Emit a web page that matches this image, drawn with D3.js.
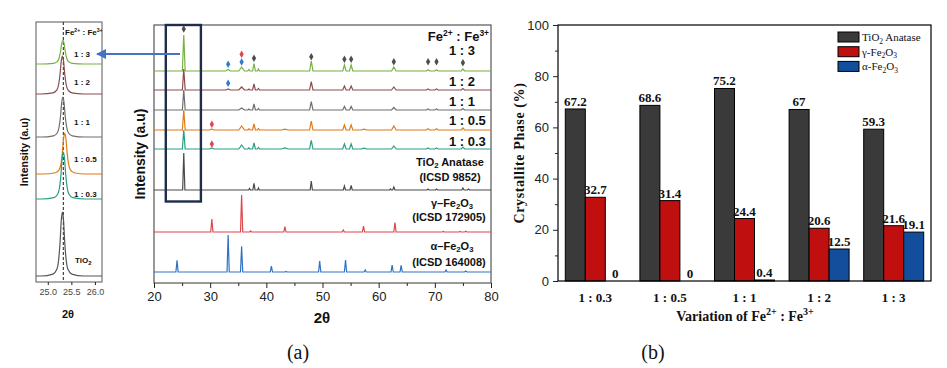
<!DOCTYPE html>
<html>
<head>
<meta charset="utf-8">
<script src="https://cdn.jsdelivr.net/npm/d3@7"></script>
<style>
body{margin:0;background:#fff}
svg{display:block}
text{font-family:"Liberation Sans",Arial,sans-serif;fill:#111}
.narrow{font-family:"Liberation Sans Narrow","Arial Narrow","Liberation Sans",Arial,sans-serif;font-weight:bold}
.serif{font-family:"Liberation Serif","Times New Roman",serif}
.axis path,.axis line{stroke:#222}
</style>
</head>
<body>
<svg id="chart" width="947" height="368"></svg>
<script>
// ---------- panel (b) : crystallite phase
var ratios = ["1 : 0.3", "1 : 0.5", "1 : 1", "1 : 2", "1 : 3"];
var phaseKeys = ["anatase", "gamma", "alpha"];
var anatase = [67.2, 68.6, 75.2, 67, 59.3];
var gammaFe = [32.7, 31.4, 24.4, 20.6, 21.6];
var alphaFe = [0, 0, 0.4, 12.5, 19.1];
var pctTicks = [0, 20, 40, 60, 80, 100];
var pctMinor = [10, 30, 50, 70, 90];

// ---------- panel (a) : XRD patterns, peaks as [2theta, height, half width]
var twoThetaTicks = [20, 30, 40, 50, 60, 70, 80];
var twoThetaMinor = [25, 35, 45, 55, 65, 75];
var traceOffsets = [212, 193, 173, 153, 134, 93, 51, 11];
var peaks13 = [[25.3,36,0.25],[33.2,1.5,0.4],[35.6,4,0.5],[36.9,1.5,0.2],[37.8,7.5,0.25],[38.6,2,0.2],[48.0,10,0.3],[53.9,6,0.3],[55.1,6,0.3],[62.7,4,0.4],[68.8,1.3,0.3],[70.3,1.3,0.3],[75.0,2,0.3]];
var peaks12 = [[25.3,21,0.25],[33.2,1,0.4],[35.6,3,0.5],[36.9,1,0.2],[37.8,6,0.25],[38.6,1.5,0.2],[48.0,8.3,0.3],[53.9,4,0.3],[55.1,4,0.3],[62.7,3,0.4],[68.8,1,0.3],[70.3,1,0.3],[75.0,1.5,0.3]];
var peaks11 = [[25.3,20,0.25],[35.6,2,0.5],[36.9,1,0.2],[37.8,6,0.25],[38.6,1.5,0.2],[48.0,8.3,0.3],[53.9,3.5,0.3],[55.1,3.5,0.3],[62.7,2.5,0.4],[68.8,1,0.3],[70.3,1,0.3],[75.0,1.5,0.3]];
var peaks105 = [[25.3,20,0.25],[30.3,1,0.4],[35.6,4,0.5],[36.9,1.2,0.2],[37.8,6,0.25],[38.6,1.5,0.2],[43.3,0.8,0.6],[48.0,9,0.3],[53.9,5,0.3],[55.1,5,0.3],[57.4,0.8,0.5],[62.7,4,0.4],[68.8,1.2,0.3],[70.3,1.2,0.3],[75.0,2,0.3]];
var peaks103 = [[25.3,19,0.25],[30.3,1,0.4],[35.6,4,0.5],[36.9,1.2,0.2],[37.8,6,0.25],[38.6,1.5,0.2],[43.3,1,0.6],[48.0,8.6,0.3],[53.9,5,0.3],[55.1,5,0.3],[57.4,0.8,0.5],[62.7,3,0.4],[68.8,1,0.3],[70.3,1,0.3],[75.0,1.8,0.3]];
var peaksTiO2 = [[25.3,37,0.2],[37.0,1.5,0.15],[37.8,6.7,0.2],[38.6,2,0.15],[48.0,9,0.2],[53.9,4,0.2],[55.1,4.5,0.2],[62.1,1,0.15],[62.7,3,0.2],[68.8,1,0.2],[70.3,1,0.2],[75.0,2,0.2],[76.0,1,0.2]];
var peaksGamma = [[30.3,13,0.2],[35.6,37,0.2],[37.2,1,0.15],[43.3,5.3,0.2],[53.7,2,0.2],[57.3,6,0.2],[62.9,9.5,0.2],[71.5,0.6,0.2],[74.5,0.6,0.2],[75.5,0.8,0.2]];
var peaksAlpha = [[24.1,11.6,0.2],[33.2,37,0.2],[35.6,25.6,0.2],[40.9,6,0.2],[43.5,0.5,0.2],[49.5,11,0.2],[54.1,12,0.2],[57.6,2,0.2],[62.4,7,0.2],[64.0,6.6,0.2],[72.0,2,0.2],[75.5,1,0.2]];
var traceColors = ["#77b043", "#8b4c4c", "#6e6e6e", "#e07b14", "#2a9d82", "#4a4a4a", "#e0474c", "#2f72c4"];
// phase markers [2theta, height]
var anataseMarks = [[25.3,254],[37.8,224.7],[48.0,226.3],[53.9,223.7],[55.1,223.7],[62.7,221.3],[68.8,221.3],[70.3,221.3],[75.0,220.3]];
var gammaMarks = [[35.6,228.7],[30.3,158.7],[30.3,139]];
var alphaMarks = [[35.6,221],[33.2,218.7],[33.2,199.7]];

// ---------- inset : (101) anatase peak
var insetOffsets = [218, 188, 145, 108, 83, 6];
var insetCentres = [25.32, 25.31, 25.32, 25.36, 25.33, 25.31];
var insetHeights = [24, 38, 40, 41, 47, 64];
var insetColors = ["#77b043", "#8b4c4c", "#6e6e6e", "#e07b14", "#2a9d82", "#555555"];
var insetLabels = ["1 : 3", "1 : 2", "1 : 1", "1 : 0.5", "1 : 0.3"];
var peakShape = [[-0.45,0],[-0.2,0.03],[-0.12,0.1],[-0.08,0.25],[-0.05,0.52],[-0.025,0.86],[0,1],[0.025,0.86],[0.05,0.52],[0.08,0.25],[0.12,0.1],[0.2,0.03],[0.45,0]];
var insetTicks = [25.0, 25.5, 26.0];

var svg = d3.select("#chart");

// ================= panel (a) main =================
var mainL = 154, mainR = 491, mainT = 25, mainB = 283;
var x = d3.scaleLinear().domain([20, 80]).range([mainL, mainR]);
var y = d3.scaleLinear().domain([0, 258]).range([mainB, mainT]);

var gA = svg.append("g");
gA.append("rect").attr("x", mainL).attr("y", mainT).attr("width", mainR - mainL).attr("height", mainB - mainT)
  .attr("fill", "none").attr("stroke", "#555").attr("stroke-width", 1.2);

function traceLine(peaks, offset) {
  var pts = [[20, offset]];
  peaks.forEach(function(p) {
    pts.push([p[0] - p[2], offset]);
    pts.push([p[0], offset + p[1]]);
    pts.push([p[0] + p[2], offset]);
  });
  pts.push([80, offset]);
  return d3.line().x(function(d){ return x(d[0]); }).y(function(d){ return y(d[1]); })(pts);
}

var allPeaks = [peaks13, peaks12, peaks11, peaks105, peaks103, peaksTiO2, peaksGamma, peaksAlpha];
allPeaks.forEach(function(pk, i) {
  gA.append("path").attr("d", traceLine(pk, traceOffsets[i]))
    .attr("fill", "none").attr("stroke", traceColors[i]).attr("stroke-width", 1.2);
});

var diamond = d3.symbol().type(d3.symbolDiamond).size(16);
function drawMarks(list, col) {
  gA.selectAll(null).data(list).enter().append("path")
    .attr("d", diamond)
    .attr("transform", function(d){ return "translate(" + x(d[0]) + "," + y(d[1]) + ")"; })
    .attr("fill", col);
}
drawMarks(anataseMarks, "#4d4d4d");
drawMarks(gammaMarks, "#e0474c");
drawMarks(alphaMarks, "#2f7ad0");

// axis
gA.append("g").attr("class", "axis").attr("transform", "translate(0," + mainB + ")")
  .call(d3.axisBottom(x).tickValues(twoThetaTicks).tickSize(5).tickPadding(4))
  .call(function(g){ g.select(".domain").remove(); g.selectAll("text").attr("font-size", 13).style("fill", "#222"); });
gA.append("g").attr("class", "axis").attr("transform", "translate(0," + mainB + ")")
  .call(d3.axisBottom(x).tickValues(twoThetaMinor).tickSize(3).tickFormat(""))
  .call(function(g){ g.select(".domain").remove(); });

gA.append("text").attr("x", 322).attr("y", 323).attr("text-anchor", "middle")
  .attr("font-size", 15).attr("font-weight", "bold").text("2θ");
gA.append("text").attr("transform", "translate(145,154) rotate(-90)").attr("text-anchor", "middle")
  .attr("class", "narrow").attr("font-size", 14).text("Intensity (a.u)");

// labels right side
function supText(g, xx, yy, size, anchor) {
  var t = g.append("text").attr("x", xx).attr("y", yy).attr("font-size", size).attr("class", "narrow").attr("text-anchor", anchor);
  t.append("tspan").text("Fe");
  t.append("tspan").attr("dy", -size * 0.35).attr("font-size", size * 0.65).text("2+");
  t.append("tspan").attr("dy", size * 0.35).text(" : Fe");
  t.append("tspan").attr("dy", -size * 0.35).attr("font-size", size * 0.65).text("3+");
  return t;
}
supText(gA, 489, 41, 13, "end");
var sampleLabelY = [55, 86, 106, 125, 146];
insetLabels.forEach(function(s, i) {
  gA.append("text").attr("class", "narrow").attr("x", 449).attr("y", sampleLabelY[i]).attr("font-size", 13).text(s);
});
function formulaLabel(g, xx, yy, size, parts) {
  var t = g.append("text").attr("x", xx).attr("y", yy).attr("font-size", size).attr("class", "narrow").attr("text-anchor", "middle");
  parts.forEach(function(p) {
    if (p[1]) t.append("tspan").attr("font-size", size * 0.7).attr("dy", size * 0.2).text(p[0]);
    else t.append("tspan").attr("dy", p[2] || 0).text(p[0]);
  });
  return t;
}
var fs = 11;
formulaLabel(gA, 450, 166, fs, [["TiO"], ["2", 1], [" Anatase", 0, -fs * 0.2]]);
gA.append("text").attr("class", "narrow").attr("x", 450).attr("y", 181).attr("font-size", fs).attr("text-anchor", "middle").text("(ICSD 9852)");
formulaLabel(gA, 452, 207, fs, [["γ–Fe"], ["2", 1], ["O", 0, -fs * 0.2], ["3", 1]]);
gA.append("text").attr("class", "narrow").attr("x", 449).attr("y", 221).attr("font-size", fs).attr("text-anchor", "middle").text("(ICSD 172905)");
formulaLabel(gA, 452, 250, fs, [["α–Fe"], ["2", 1], ["O", 0, -fs * 0.2], ["3", 1]]);
gA.append("text").attr("class", "narrow").attr("x", 449).attr("y", 266).attr("font-size", fs).attr("text-anchor", "middle").text("(ICSD 164008)");

// highlight box around (101)
gA.append("rect").attr("x", x(22.1)).attr("y", mainT).attr("width", x(28.35) - x(22.1)).attr("height", 201.5 - mainT)
  .attr("fill", "none").attr("stroke", "#1f2d4a").attr("stroke-width", 2.4);

gA.append("text").attr("class", "serif").attr("x", 298).attr("y", 359).attr("font-size", 20).attr("text-anchor", "middle").text("(a)");

// ================= inset =================
var inL = 36, inR = 102, inT = 22, inB = 282;
var xi = d3.scaleLinear().domain([24.75, 26.15]).range([inL, inR]);
var yi = d3.scaleLinear().domain([0, 260]).range([inB, inT]);
var gI = svg.append("g");
gI.append("rect").attr("x", inL).attr("y", inT).attr("width", inR - inL).attr("height", inB - inT)
  .attr("fill", "none").attr("stroke", "#666").attr("stroke-width", 1.1);
gI.append("line").attr("x1", xi(25.33)).attr("x2", xi(25.33)).attr("y1", inT).attr("y2", inB)
  .attr("stroke", "#333").attr("stroke-width", 1.1).attr("stroke-dasharray", "3,2");
var insetLine = d3.line().curve(d3.curveMonotoneX).x(function(d){ return xi(d[0]); }).y(function(d){ return yi(d[1]); });
insetOffsets.forEach(function(off, i) {
  var pts = [[24.75, off]];
  peakShape.forEach(function(s){ pts.push([insetCentres[i] + s[0], off + s[1] * insetHeights[i]]); });
  pts.push([26.15, off]);
  gI.append("path").attr("d", insetLine(pts)).attr("fill", "none").attr("stroke", insetColors[i]).attr("stroke-width", 1.2);
});
gI.append("g").attr("class", "axis").attr("transform", "translate(0," + inB + ")")
  .call(d3.axisBottom(xi).tickValues(insetTicks).tickSize(3).tickPadding(4).tickFormat(d3.format(".1f")))
  .call(function(g){ g.select(".domain").remove(); g.selectAll("text").attr("font-size", 9).style("fill", "#444"); });
gI.append("text").attr("x", 68).attr("y", 318).attr("text-anchor", "middle").attr("font-size", 11).attr("font-weight", "bold").text("2θ");
gI.append("text").attr("transform", "translate(28,152) rotate(-90)").attr("text-anchor", "middle")
  .attr("class", "narrow").attr("font-size", 10.5).text("Intensity (a.u)");
supText(gI, 65, 35, 8, "start");
var insetLabelY = [57, 85, 125, 162, 197];
insetLabels.forEach(function(s, i) {
  gI.append("text").attr("class", "narrow").attr("x", 74).attr("y", insetLabelY[i]).attr("font-size", 8).text(s);
});
var tio = gI.append("text").attr("class", "narrow").attr("x", 75).attr("y", 263).attr("font-size", 8);
tio.append("tspan").text("TiO");
tio.append("tspan").attr("font-size", 6).attr("dy", 2).text("2");

// arrow
svg.append("defs").append("marker").attr("id", "ah").attr("viewBox", "0 0 10 10").attr("refX", 9).attr("refY", 5)
  .attr("markerWidth", 6).attr("markerHeight", 5).attr("markerUnits", "strokeWidth").attr("orient", "auto")
  .append("path").attr("d", "M0,0L10,5L0,10z").attr("fill", "#4472c4");
svg.append("line").attr("x1", 180).attr("y1", 54).attr("x2", 97).attr("y2", 54)
  .attr("stroke", "#4472c4").attr("stroke-width", 2).attr("marker-end", "url(#ah)");

// ================= panel (b) =================
var bL = 558, bR = 931, bT = 25, bB = 281;
var x0 = d3.scaleBand().domain(ratios).range([bL, bR]).padding(0);
var x1 = d3.scaleBand().domain(phaseKeys).range([0, x0.bandwidth()]).paddingInner(0).paddingOuter(0.365);
var yb = d3.scaleLinear().domain([0, 100]).range([bB, bT]);
var phaseColors = {anatase: "#3a3a3a", gamma: "#c00f0f", alpha: "#124e9c"};
var series = {anatase: anatase, gamma: gammaFe, alpha: alphaFe};

var gB = svg.append("g");
var groups = gB.selectAll("g.grp").data(ratios).enter().append("g").attr("class", "grp")
  .attr("transform", function(d){ return "translate(" + x0(d) + ",0)"; });
groups.each(function(r, i) {
  var g = d3.select(this);
  phaseKeys.forEach(function(k) {
    var v = series[k][i];
    g.append("rect").attr("x", x1(k)).attr("y", yb(v)).attr("width", x1.bandwidth()).attr("height", bB - yb(v))
      .attr("fill", phaseColors[k]).attr("stroke", "#000").attr("stroke-width", 1);
    g.append("text").attr("class", "serif").attr("x", x1(k) + x1.bandwidth() / 2).attr("y", yb(v) - 3)
      .attr("text-anchor", "middle").attr("font-size", 13).attr("font-weight", "bold").text(v);
  });
});

gB.append("rect").attr("x", bL).attr("y", bT).attr("width", bR - bL).attr("height", bB - bT)
  .attr("fill", "none").attr("stroke", "#000").attr("stroke-width", 1.2);
gB.append("g").attr("class", "axis").attr("transform", "translate(" + bL + ",0)")
  .call(d3.axisLeft(yb).tickValues(pctTicks).tickSize(5).tickPadding(4))
  .call(function(g){ g.select(".domain").remove(); g.selectAll("text").attr("font-size", 13).style("fill", "#222"); });
gB.append("g").attr("class", "axis").attr("transform", "translate(" + bL + ",0)")
  .call(d3.axisLeft(yb).tickValues(pctMinor).tickSize(3).tickFormat(""))
  .call(function(g){ g.select(".domain").remove(); });
gB.append("g").attr("transform", "translate(0," + bB + ")")
  .call(d3.axisBottom(x0).tickSize(0).tickPadding(12))
  .call(function(g){ g.select(".domain").remove();
    g.selectAll("text").attr("class", "serif").attr("font-size", 13).attr("font-weight", "bold").style("fill", "#111"); });

var xl = gB.append("text").attr("class", "serif").attr("x", 745).attr("y", 321).attr("text-anchor", "middle")
  .attr("font-size", 14).attr("font-weight", "bold");
xl.append("tspan").text("Variation of Fe");
xl.append("tspan").attr("dy", -6).attr("font-size", 10).text("2+");
xl.append("tspan").attr("dy", 6).text(" : Fe");
xl.append("tspan").attr("dy", -6).attr("font-size", 10).text("3+");
gB.append("text").attr("class", "serif").attr("transform", "translate(524,153) rotate(-90)").attr("text-anchor", "middle")
  .attr("font-size", 14).attr("font-weight", "bold").attr("letter-spacing", 0.6).text("Crystallite Phase (%)");

// legend
var legendRows = [
  {k: "anatase", parts: [["TiO"], ["2", 1], [" Anatase"]]},
  {k: "gamma", parts: [["γ-Fe"], ["2", 1], ["O"], ["3", 1]]},
  {k: "alpha", parts: [["α-Fe"], ["2", 1], ["O"], ["3", 1]]}
];
legendRows.forEach(function(row, i) {
  var yy = 32 + i * 14.7;
  gB.append("rect").attr("x", 838).attr("y", yy).attr("width", 21).attr("height", 10)
    .attr("fill", phaseColors[row.k]).attr("stroke", "#000").attr("stroke-width", 1);
  var t = gB.append("text").attr("class", "serif").attr("x", 862).attr("y", yy + 9).attr("font-size", 11);
  var down = false;
  row.parts.forEach(function(p) {
    if (p[1]) { t.append("tspan").attr("dy", down ? 0 : 2.5).attr("font-size", 7.5).text(p[0]); down = true; }
    else { t.append("tspan").attr("dy", down ? -2.5 : 0).text(p[0]); down = false; }
  });
});

gB.append("text").attr("class", "serif").attr("x", 653).attr("y", 359).attr("font-size", 20).attr("text-anchor", "middle").text("(b)");
</script>
</body>
</html>
